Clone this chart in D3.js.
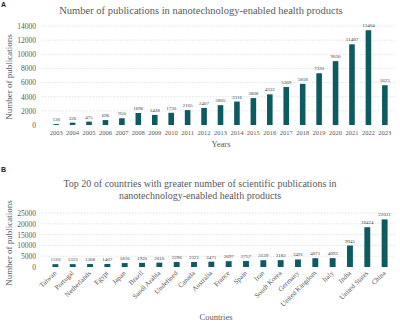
<!DOCTYPE html>
<html><head><meta charset="utf-8">
<script src="https://cdn.jsdelivr.net/npm/d3@7/dist/d3.min.js"></script>
<style>body{margin:0;background:#fff}svg{display:block}</style>
</head><body>
<svg id="c" width="400" height="325"></svg>
<script>
const years = ["2003","2004","2005","2006","2007","2008","2009","2010","2011","2012","2013","2014","2015","2016","2017","2018","2019","2020","2021","2022","2023"];
const yearValues = [130,326,475,696,950,1696,1428,1730,2105,2407,2805,3316,3808,4332,5369,5818,7320,9030,11407,13404,5623];
const yearTicks = [0,2000,4000,6000,8000,10000,12000,14000];

const countries = ["Taiwan","Portugal","Netherlands","Egypt","Japan","Brazil","Saudi Arabia","Undefined","Canada","Australia","France","Spain","Iran","South Korea","Germany","United Kingdom","Italy","India","United States","China"];
const countryValues = [1310,1323,1368,1407,1816,1926,2010,2296,2321,2471,2697,2757,3139,3182,3491,4071,4093,9945,18424,22031];
const countryTicks = [0,5000,10000,15000,20000,25000];

const svg = d3.select("#c");
const serif = "'Liberation Serif','DejaVu Serif',serif";
const barColor = "#0e5a61";
const txt = "#595959";

function panel(opt){
  const g = svg.append("g");
  const x = d3.scaleBand().domain(opt.cats).range(opt.xr).padding(0.66);
  const y = d3.scaleLinear().domain(opt.yd).range(opt.yr);
  g.selectAll(".grid").data(opt.ticks.filter(t=>t>0)).join("line")
    .attr("x1", opt.gx[0]).attr("x2", opt.gx[1])
    .attr("y1", d=>y(d)).attr("y2", d=>y(d))
    .attr("stroke","#d4d4d4").attr("stroke-width",0.7).attr("stroke-dasharray","1.5,1.5");
  const ya = d3.axisLeft(y).tickValues(opt.ticks).tickFormat(d3.format("d")).tickSize(0).tickPadding(0);
  const yg = g.append("g").attr("transform",`translate(${opt.yLabelX},0)`).call(ya);
  yg.select(".domain").remove();
  yg.selectAll("text").attr("fill",txt).style("font-family",serif).style("font-size","7.5px");
  g.selectAll(".bar").data(opt.vals).join("rect")
    .attr("x",(d,i)=>x(opt.cats[i])).attr("width",x.bandwidth())
    .attr("y",d=>y(d)).attr("height",d=>y(0)-y(d)).attr("fill",barColor);
  g.selectAll(".vl").data(opt.vals).join("text")
    .attr("x",(d,i)=>x(opt.cats[i])+x.bandwidth()/2).attr("y",d=>y(d)-3)
    .attr("text-anchor","middle").attr("fill","#404040")
    .style("font-family",serif).style("font-size","5px").text(d=>d);
  const xa = d3.axisBottom(x).tickSize(0).tickPadding(0);
  const xg = g.append("g").attr("transform",`translate(0,${y(0)+opt.xLabelDy})`).call(xa);
  xg.select(".domain").remove();
  xg.selectAll("text").attr("fill",txt).style("font-family",serif).style("font-size",opt.xFont);
  if(opt.rotate){
    xg.selectAll("text").attr("text-anchor","end").attr("dy","0.3em")
      .attr("transform","rotate(-45)");
  } else {
    xg.selectAll("text").attr("dy","0.71em");
  }
  opt.title.forEach((t,i)=>{
    g.append("text").attr("x",opt.titleX).attr("y",opt.titleY+i*12).attr("text-anchor","middle")
      .attr("fill",txt).style("font-family",serif).style("font-size",opt.titleFont).text(t);
  });
  g.append("text").attr("x",opt.xTitle[0]).attr("y",opt.xTitle[1]).attr("text-anchor","middle")
    .attr("fill",txt).style("font-family",serif).style("font-size","8.5px").text(opt.xTitleText);
  g.append("text").attr("transform",`translate(${opt.yTitle[0]},${opt.yTitle[1]}) rotate(-90)`)
    .attr("text-anchor","middle").attr("fill",txt).style("font-family",serif).style("font-size","9px")
    .text("Number of publications");
  g.append("text").attr("x",1).attr("y",opt.letterY).attr("fill","#222")
    .style("font-family","'Liberation Sans',Arial,sans-serif").style("font-weight","bold").style("font-size","7px").text(opt.letter);
}

panel({
  cats: years, vals: yearValues, ticks: yearTicks,
  xr:[42.5,398.5], yd:[0,14000], yr:[125,26], gx:[42,396], yLabelX:36,
  xLabelDy:5, xFont:"6.5px", rotate:false,
  title:["Number of publications in nanotechnology-enabled health products"], titleX:201, titleY:14, titleFont:"10.5px",
  xTitle:[221,147], xTitleText:"Years", yTitle:[12,77], letter:"A", letterY:7
});
panel({
  cats: countries, vals: countryValues, ticks: countryTicks,
  xr:[41,399], yd:[0,25000], yr:[267,213], gx:[42,396], yLabelX:36,
  xLabelDy:5, xFont:"7px", rotate:true,
  title:["Top 20 of countries with greater number of scientific publications in","nanotechnology-enabled health products"], titleX:200, titleY:187, titleFont:"10px",
  xTitle:[216,320], xTitleText:"Countries", yTitle:[12,243], letter:"B", letterY:172
});
</script>
</body></html>
